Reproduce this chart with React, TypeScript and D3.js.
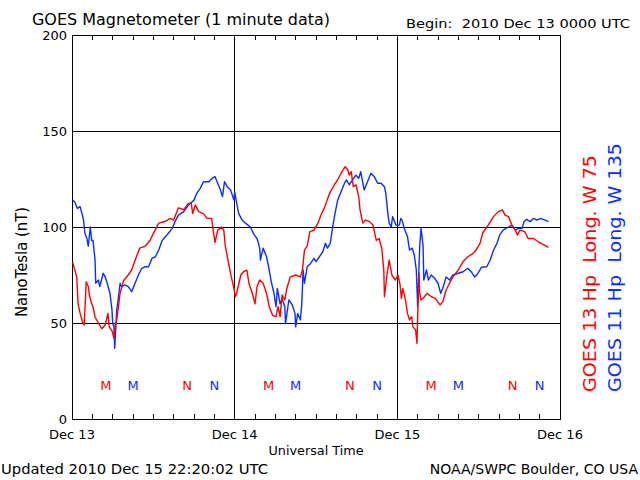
import React from "react";
import * as d3 from "d3";

// GOES 13 (red) — hours since 2010 Dec 13 00:00 UT, nT
const redHours = [0.1,0.7,0.9,1.2,1.6,1.8,2.1,2.4,2.6,2.9,3.1,3.4,3.9,4.4,4.9,5.3,5.5,5.9,6.2,6.3,6.6,7.1,7.6,8.3,8.8,9.5,10.0,10.8,11.5,12.2,12.8,13.8,14.5,15.0,15.7,16.5,17.1,17.6,17.8,18.2,18.7,19.4,19.9,20.6,20.9,21.1,21.5,22.1,22.4,22.6,23.1,23.5,23.9,24.1,24.3,24.9,25.3,25.8,26.1,26.6,27.0,27.3,27.7,28.2,28.7,29.1,29.6,30.1,30.4,30.7,31.0,31.4,31.7,32.2,33.0,33.7,34.0,34.3,34.7,35.1,35.7,36.4,36.7,37.2,38.0,38.7,39.2,39.7,40.3,40.7,40.9,41.2,41.5,41.9,42.3,42.5,42.9,43.3,43.9,44.4,44.9,45.3,45.7,46.0,46.1,46.5,46.8,47.2,47.7,48.1,48.4,48.6,48.8,49.2,49.5,49.8,50.1,50.3,50.7,50.9,51.0,51.2,51.3,51.5,52.0,52.4,53.0,53.6,54.3,54.7,55.2,55.7,56.2,57.0,57.7,58.4,59.2,59.6,60.2,60.6,61.4,62.2,62.9,63.5,63.9,64.4,64.9,65.4,65.7,66.1,66.8,67.3,68.1,68.8,69.5,70.3];
const redValues = [81.6,74,60,55,50,49,71.5,69,64,60,58.5,53,50,47,49,55,48,46,42,48,51.5,65.5,72,75,77.6,84.5,89,90,93,98,102,103,104.5,103.6,110,109,112,112.6,107,111.5,108,107,104.5,104.5,96.7,92,98.4,100,98.4,90.6,81,74,68,63.7,65.5,75,76.7,77.6,70.7,65.5,60,69,72.4,70.7,65.5,58.5,54,53.3,58.5,53.3,64.6,62,68,74,75,74,77.6,88,90,97.6,98.4,102.8,106,109.7,117.5,122,124.5,128,131.4,129.7,127,128.8,121,122,115.8,108.9,102,103.6,102.8,101,93,94,89,77.6,63.7,75.9,82.8,75,72.4,75,70,62.8,68,62,55,51.6,53.3,48,46.4,39.4,53.3,75.9,65.5,62,63.7,65.5,63.7,62.8,59.4,61,67.2,70.7,74,77.6,82,84.5,86.3,88,91.5,97,101,105.4,108,108.9,106.2,105.4,101,98.4,95.8,98.4,97.6,94,94,92.3,91,89.4];

// GOES 11 (blue)
const blueHours = [0.1,0.4,0.8,1.2,1.4,1.7,1.9,2.2,2.4,2.7,2.9,3.1,3.4,3.5,3.9,4.1,4.6,4.9,5.2,5.6,5.9,6.0,6.2,6.3,6.6,6.8,7.1,7.3,7.8,8.3,8.8,9.3,9.8,10.3,10.8,11.3,11.8,12.3,12.8,13.3,14.0,14.8,15.2,15.7,16.5,17.2,18.0,18.4,18.9,19.4,20.2,20.7,21.1,21.5,21.9,22.2,22.5,22.9,23.4,23.9,24.0,24.3,24.6,25.1,25.6,26.3,26.9,27.3,27.7,27.8,28.2,28.7,29.1,29.4,29.8,30.1,30.3,30.7,31.0,31.4,31.5,32.0,32.5,32.9,33.0,33.3,33.7,33.9,34.1,34.3,34.7,35.2,35.7,36.0,36.5,37.0,37.4,37.7,38.1,38.5,38.8,39.2,39.7,40.2,40.5,40.9,41.4,41.9,42.3,42.6,43.1,43.6,44.1,44.6,45.1,45.6,46.1,46.3,46.6,46.8,47.1,47.3,47.8,48.3,48.5,48.7,49.1,49.5,49.8,50.2,50.5,50.8,51.0,51.3,51.5,51.8,51.9,52.3,52.6,53.0,53.5,54.0,54.4,54.7,55.2,55.7,56.2,57.0,57.7,58.4,58.9,59.4,59.9,60.4,61.2,61.7,62.2,62.7,63.1,63.6,64.4,64.9,65.4,65.9,66.4,66.7,67.1,67.6,68.1,68.6,69.1,69.8,70.3];
const blueValues = [114,113,109.7,110.6,108,103.6,96.7,94,90,100,93,93,82.8,70.7,72.4,69,75.9,74,70.7,65.5,56.8,49.8,48,36.8,56.8,62,70.7,69,69.8,69,66.3,70.7,75,78.5,79.3,79.3,83.7,84.5,88,93,95.8,99.3,102.8,106.2,108,111.5,114,117.5,120,123.6,123.6,125.4,126.2,122.8,119.3,115.8,123.6,121,119.3,114,118.4,112.3,107,103.6,102,100,95.8,94,89,82.8,89,84.5,77.6,71.5,65.5,58.5,68,60,62.8,58.5,49.8,62,59.4,55,48,55,51.6,60,77.6,70.7,79.3,81,83.7,82,84.5,87.1,91.5,89,91.5,101,107,114,118.4,122.8,124.5,122,124.5,127,125.4,128.8,119.3,123.6,128,126.2,122.8,122.8,121,117.5,107,102,100,105.4,101,101,104.5,103.6,98.4,95,88,89,85.4,77.6,58.5,90,99.3,90,72.4,77.6,72.4,75,73.3,70.7,65.5,68,74,72.4,75,75.9,76.7,78.5,76.7,74,75.9,79,79.3,82.8,88,91.5,95.8,98.4,100,101,98.4,99.3,99.3,102.8,104,102.8,104.5,103.6,104.5,103.6,102.8];

const yTicks = [0, 50, 100, 150, 200];
const dayHours = [0, 24, 48, 72];
const dayLabels = ["Dec 13", "Dec 14", "Dec 15", "Dec 16"];
const redMarkerHours = [5, 17, 29, 41, 53, 65];
const redMarkerLabels = ["M", "N", "M", "N", "M", "N"];
const blueMarkerHours = [9, 21, 33, 45, 57, 69];
const blueMarkerLabels = ["M", "N", "M", "N", "M", "N"];

const RED = "#ff0000";
const BLUE = "#0a2eff";
const FONT = "'DejaVu Sans', sans-serif";

export default function App() {
  const left = 72, right = 560, top = 35, bottom = 419;
  const x = d3.scaleLinear().domain([0, 72]).range([left, right]);
  const y = d3.scaleLinear().domain([0, 200]).range([bottom, top]);
  const line = d3.line<[number, number]>().x(d => x(d[0])).y(d => y(d[1]));
  const red = line(redHours.map((h, i) => [h, redValues[i]] as [number, number])) || "";
  const blue = line(blueHours.map((h, i) => [h, blueValues[i]] as [number, number])) || "";
  const minor = d3.range(0, 73, 3).filter(h => h % 24 !== 0);

  return (
    <svg width={640} height={480} style={{ position: "absolute", left: 0, top: 0, background: "#fff" }} fontFamily={FONT}>
      <rect x={0} y={0} width={640} height={480} fill="#fff" />
      <text x={32} y={25} fontSize={15} textLength={298} lengthAdjust="spacingAndGlyphs">GOES Magnetometer (1 minute data)</text>
      <text x={406} y={28} fontSize={13} textLength={224} lengthAdjust="spacingAndGlyphs" xmlSpace="preserve">Begin:  2010 Dec 13 0000 UTC</text>

      <g shapeRendering="crispEdges" stroke="#000" strokeWidth={1}>
        {yTicks.filter(v => v > 0 && v < 200).map(v => (
          <line key={"gy" + v} x1={left} x2={right} y1={y(v)} y2={y(v)} />
        ))}
        {dayHours.filter(h => h > 0 && h < 72).map(h => (
          <line key={"gx" + h} x1={x(h)} x2={x(h)} y1={top} y2={bottom} />
        ))}
        {minor.map(h => (
          <g key={"m" + h}>
            <line x1={x(h)} x2={x(h)} y1={top} y2={top + 5} />
            <line x1={x(h)} x2={x(h)} y1={bottom} y2={bottom - 5} />
          </g>
        ))}
        <rect x={left} y={top} width={right - left} height={bottom - top} fill="none" />
      </g>

      <path d={blue} fill="none" stroke={BLUE} strokeWidth={1.4} strokeLinejoin="round" />
      <path d={red} fill="none" stroke={RED} strokeWidth={1.4} strokeLinejoin="round" />

      {yTicks.map(v => (
        <text key={"yl" + v} x={67} y={y(v) + 5} fontSize={13} textAnchor="end">{v}</text>
      ))}
      {dayHours.map((h, i) => (
        <text key={"xl" + h} x={x(h)} y={439} fontSize={13} textAnchor="middle">{dayLabels[i]}</text>
      ))}
      <text x={316} y={455} fontSize={13} textAnchor="middle" textLength={95} lengthAdjust="spacingAndGlyphs">Universal Time</text>
      <text x={1} y={474} fontSize={14} textLength={267} lengthAdjust="spacingAndGlyphs">Updated 2010 Dec 15 22:20:02 UTC</text>
      <text x={638} y={474} fontSize={14} textAnchor="end">NOAA/SWPC Boulder, CO USA</text>
      <text transform="translate(27,262) rotate(-90)" fontSize={16} textAnchor="middle" textLength={110} lengthAdjust="spacingAndGlyphs">NanoTesla (nT)</text>

      {redMarkerHours.map((h, i) => (
        <text key={"rm" + h} x={x(h)} y={390} fontSize={13} textAnchor="middle" fill={RED}>{redMarkerLabels[i]}</text>
      ))}
      {blueMarkerHours.map((h, i) => (
        <text key={"bm" + h} x={x(h)} y={390} fontSize={13} textAnchor="middle" fill={BLUE}>{blueMarkerLabels[i]}</text>
      ))}

      <text transform="translate(596,392) rotate(-90)" fontSize={17} fill={RED} textLength={237} lengthAdjust="spacingAndGlyphs" xmlSpace="preserve">GOES 13 Hp  Long. W 75</text>
      <text transform="translate(621,392) rotate(-90)" fontSize={17} fill={BLUE} textLength={249} lengthAdjust="spacingAndGlyphs" xmlSpace="preserve">GOES 11 Hp  Long. W 135</text>
    </svg>
  );
}
